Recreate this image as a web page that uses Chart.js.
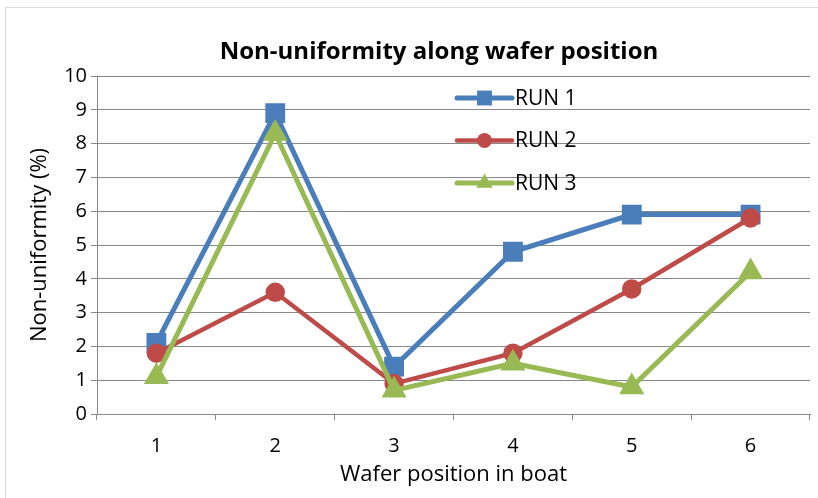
<!DOCTYPE html>
<html>
<head>
<meta charset="utf-8">
<script src="https://cdn.jsdelivr.net/npm/chart.js@4/dist/chart.umd.min.js"></script>
<style>
  html, body { margin: 0; padding: 0; background: #ffffff; }
  #wrap { width: 818px; height: 498px; position: relative; }
</style>
</head>
<body>
<div id="wrap"><canvas id="chart" width="818" height="498"></canvas></div>
<script>
// Wafer positions along the boat
const positions = ['1', '2', '3', '4', '5', '6'];
// Non-uniformity (%) per run
const run1 = [2.1, 8.9, 1.4, 4.8, 5.9, 5.9];
const run2 = [1.8, 3.6, 0.9, 1.8, 3.7, 5.8];
const run3 = [1.1, 8.3, 0.7, 1.5, 0.8, 4.2];
const seriesNames = ['RUN 1', 'RUN 2', 'RUN 3'];
const titleText = 'Non-uniformity along wafer position';
const yTitle = 'Non-uniformity (%)';
const xTitle = 'Wafer position in boat';

const FONT = "'Open Sans', 'Liberation Sans', sans-serif";
const GRID = '#878787';

function marker(ctx, style, x, y, r, color) {
  ctx.save();
  ctx.fillStyle = color;
  ctx.beginPath();
  if (style === 'rect') {
    const s = r * Math.SQRT1_2;
    ctx.rect(x - s, y - s, 2 * s, 2 * s);
  } else if (style === 'triangle') {
    ctx.moveTo(x, y - r);
    ctx.lineTo(x + r * Math.sin(Math.PI / 3), y + r / 2);
    ctx.lineTo(x - r * Math.sin(Math.PI / 3), y + r / 2);
    ctx.closePath();
  } else {
    ctx.arc(x, y, r, 0, Math.PI * 2);
  }
  ctx.fill();
  ctx.restore();
}

// Frame, title and in-plot legend
const decorations = {
  id: 'decorations',
  beforeDraw(chart) {
    const ctx = chart.ctx;
    ctx.save();
    ctx.fillStyle = '#ffffff';
    ctx.fillRect(0, 0, chart.width, chart.height);
    ctx.strokeStyle = '#d9d9d9';
    ctx.lineWidth = 1;
    ctx.strokeRect(5.5, 7.5, 820, 500);
    ctx.restore();
  },
  afterDraw(chart) {
    const ctx = chart.ctx;
    const area = chart.chartArea;
    ctx.save();
    ctx.fillStyle = '#000000';
    ctx.font = 'bold 24px ' + FONT;
    ctx.textAlign = 'center';
    ctx.textBaseline = 'middle';
    ctx.fillText(titleText, 439, 52);

    const x0 = area.left + 360;
    const x1 = x0 + 55;
    chart.data.datasets.forEach((ds, i) => {
      const y = area.top + 22 + i * 42.5;
      ctx.strokeStyle = ds.borderColor;
      ctx.lineWidth = ds.borderWidth;
      ctx.lineCap = 'round';
      ctx.beginPath();
      ctx.moveTo(x0, y);
      ctx.lineTo(x1, y);
      ctx.stroke();
      marker(ctx, ds.pointStyle, (x0 + x1) / 2, y, ds.pointRadius, ds.borderColor);
      ctx.fillStyle = '#000000';
      ctx.font = '21px ' + FONT;
      ctx.textAlign = 'left';
      ctx.textBaseline = 'middle';
      ctx.fillText(ds.label, x1 + 3, y + 1);
    });
    ctx.restore();
  }
};

new Chart(document.getElementById('chart'), {
  type: 'line',
  data: {
    labels: positions,
    datasets: [
      { label: seriesNames[0], data: run1, borderColor: '#4a7ebb', backgroundColor: '#4a7ebb',
        borderWidth: 5, pointStyle: 'rect', pointRadius: 10.5, order: 2 },
      { label: seriesNames[1], data: run2, borderColor: '#be4b48', backgroundColor: '#be4b48',
        borderWidth: 4.5, pointStyle: 'circle', pointRadius: 7.5, order: 1 },
      { label: seriesNames[2], data: run3, borderColor: '#98b954', backgroundColor: '#98b954',
        borderWidth: 5, pointStyle: 'triangle', pointRadius: 9.5, order: 0 }
    ]
  },
  options: {
    responsive: false,
    animation: false,
    devicePixelRatio: 1,
    layout: { autoPadding: false, padding: { left: 0, right: 8, top: 76, bottom: 0 } },
    elements: { line: { tension: 0 }, point: { borderWidth: 0, hoverRadius: 9 } },
    plugins: {
      legend: { display: false },
      title: { display: false },
      tooltip: { enabled: false }
    },
    scales: {
      x: {
        type: 'category',
        offset: true,
        afterFit(scale) { scale.height = 84; scale.paddingLeft = 0; scale.paddingRight = 0; },
        grid: { offset: true, drawOnChartArea: false, drawTicks: true, tickLength: 6, color: GRID, lineWidth: 1 },
        border: { display: true, color: GRID, width: 1 },
        ticks: { color: '#000000', font: { family: FONT, size: 20 }, padding: 14, maxRotation: 0 },
        title: { display: true, text: xTitle, color: '#000000', font: { family: FONT, size: 22 },
                 padding: { top: 0, bottom: 10 } }
      },
      y: {
        min: 0,
        max: 10,
        afterFit(scale) { scale.width = 97; scale.paddingTop = 0; scale.paddingBottom = 0; },
        grid: { color: GRID, lineWidth: 1, drawTicks: true, tickLength: 6 },
        border: { display: true, color: GRID, width: 1 },
        ticks: { stepSize: 1, color: '#000000', font: { family: FONT, size: 20 }, padding: 4 },
        title: { display: true, text: yTitle, color: '#000000', font: { family: FONT, size: 22 },
                 padding: { top: 27, bottom: 0 } }
      }
    }
  },
  plugins: [decorations]
});
</script>
</body>
</html>
